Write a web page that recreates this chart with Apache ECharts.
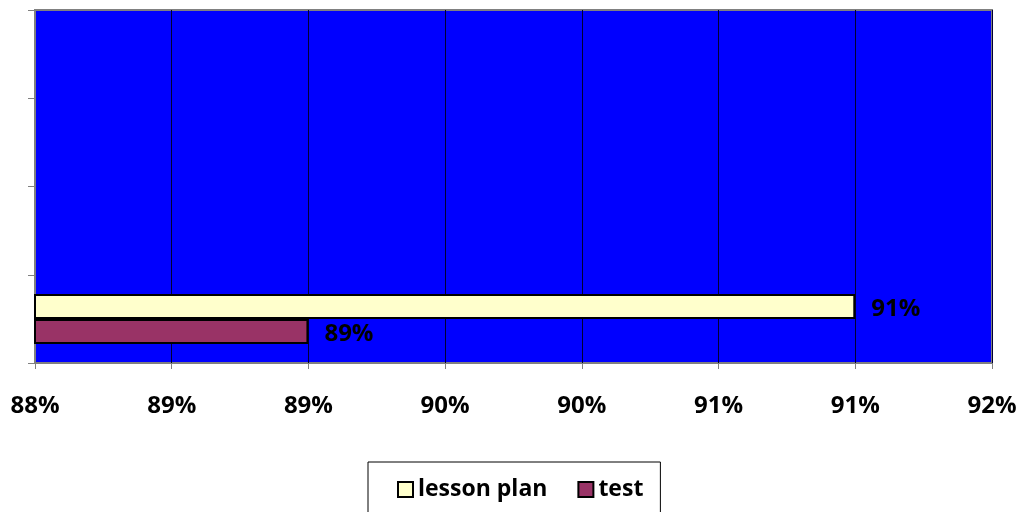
<!DOCTYPE html>
<html>
<head>
<meta charset="utf-8">
<script src="https://cdn.jsdelivr.net/npm/echarts@6/dist/echarts.min.js"></script>
<style>
html,body{margin:0;padding:0;background:#fff;}
#main{width:1022px;height:512px;}
</style>
</head>
<body>
<div id="main"></div>
<script>
var categories = ['', '', '', ''];
var seriesNames = ['lesson plan', 'test'];
var lessonPlanValues = [91.0, null, null, null];
var testValues = [89.0, null, null, null];
var xTickMin = 88;
var xTickMax = 91.5;
var xTickStep = 0.5;

var FONT = '"Open Sans"';
var chart = echarts.init(document.getElementById('main'));
chart.setOption({
  animation: false,
  backgroundColor: '#ffffff',
  grid: {
    left: 35, right: 30, top: 10, bottom: 149,
    show: true,
    backgroundColor: '#0000ff',
    borderColor: '#808080',
    borderWidth: 2
  },
  legend: {
    data: seriesNames,
    top: 462,
    left: 368,
    orient: 'horizontal',
    borderColor: '#000000',
    borderWidth: 1,
    padding: [16, 17, 22, 29],
    itemGap: 30,
    itemWidth: 15,
    itemHeight: 15,
    icon: 'rect',
    itemStyle: { borderColor: '#000', borderWidth: 2 },
    textStyle: { fontFamily: FONT, fontWeight: 'bold', fontSize: 23, color: '#000' }
  },
  xAxis: {
    type: 'value',
    min: xTickMin,
    max: xTickMax,
    interval: xTickStep,
    axisLine: { show: true, lineStyle: { color: '#808080', width: 1 } },
    axisTick: { show: true, length: 6, lineStyle: { color: '#808080' } },
    splitLine: { show: true, lineStyle: { color: '#000033', width: 1 } },
    axisLabel: {
      margin: 31,
      fontFamily: FONT, fontWeight: 'bold', fontSize: 24, color: '#000',
      formatter: function (v) { return Math.round(v) + '%'; }
    }
  },
  yAxis: {
    type: 'category',
    data: categories,
    axisLine: { show: true, lineStyle: { color: '#808080', width: 1 } },
    axisTick: { show: true, length: 7, lineStyle: { color: '#808080' } },
    axisLabel: { show: false },
    splitLine: { show: false }
  },
  series: [
    {
      name: 'lesson plan',
      type: 'bar',
      data: lessonPlanValues,
      barWidth: 25,
      barGap: '0%',
      itemStyle: { color: '#ffffcc', borderColor: '#000', borderWidth: 2 },
      label: {
        show: true, position: 'right', distance: 16,
        fontFamily: FONT, fontWeight: 'bold', fontSize: 24, color: '#000',
        offset: [0, 3],
        formatter: function (p) { return Math.round(p.value) + '%'; }
      }
    },
    {
      name: 'test',
      type: 'bar',
      data: testValues,
      barWidth: 25,
      barGap: '0%',
      itemStyle: { color: '#993366', borderColor: '#000', borderWidth: 2 },
      label: {
        show: true, position: 'right', distance: 16,
        fontFamily: FONT, fontWeight: 'bold', fontSize: 24, color: '#000',
        offset: [0, 3],
        formatter: function (p) { return Math.round(p.value) + '%'; }
      }
    }
  ]
});
</script>
</body>
</html>
